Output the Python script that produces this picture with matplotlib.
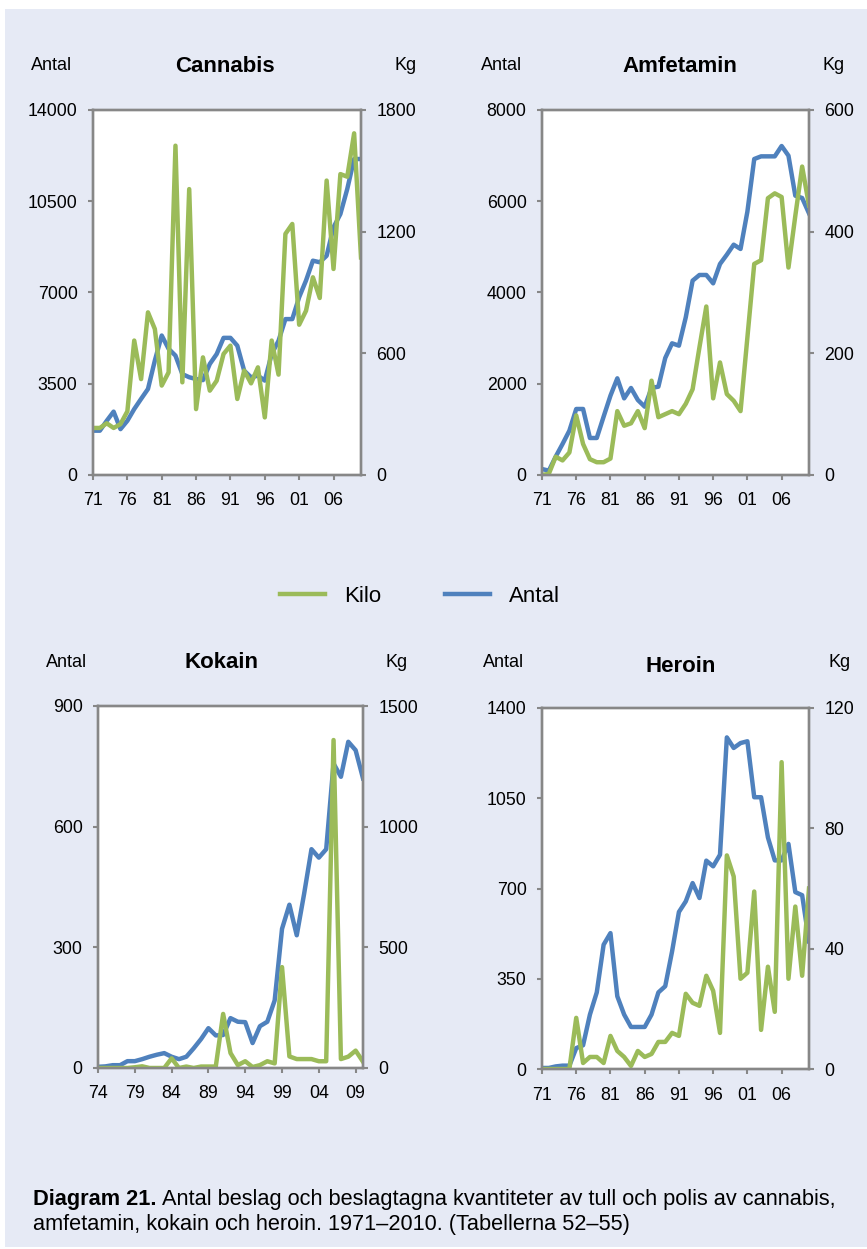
import matplotlib
matplotlib.use("Agg")
import matplotlib.pyplot as plt
from matplotlib.patches import Rectangle

plt.rcParams['font.family'] = ['Liberation Sans', 'DejaVu Sans']

# Data (Antal = number of seizures, Kilo = kg seized)
years_71 = list(range(1971, 2011))
years_74 = list(range(1974, 2011))

cannabis_antal = [1700, 1700, 2080, 2430, 1760, 2080, 2530, 2920, 3300, 4390,
                  5350, 4840, 4580, 3870, 3750, 3680, 3640, 4260, 4640, 5260,
                  5260, 4960, 4000, 3750, 3810, 3620, 4640, 5150, 5980, 5980,
                  6820, 7460, 8220, 8160, 8410, 9500, 10010, 10970, 12120, 12120]
cannabis_kilo = [232, 232, 255, 232, 251, 314, 663, 473, 802, 720,
                 441, 506, 1624, 457, 1410, 325, 580, 416, 465, 597,
                 638, 375, 515, 452, 531, 284, 663, 495, 1189, 1238,
                 741, 810, 975, 873, 1452, 1016, 1484, 1471, 1685, 1073]

amfetamin_antal = [131, 95, 402, 680, 972, 1447, 1447, 811, 811, 1279,
                   1739, 2119, 1680, 1907, 1644, 1498, 1907, 1936, 2564, 2886,
                   2835, 3456, 4260, 4384, 4384, 4201, 4625, 4829, 5048, 4954,
                   5772, 6926, 6984, 6984, 6984, 7211, 6999, 6122, 6071, 5735]
amfetamin_kilo = [0, 2, 30, 24, 37, 98, 51, 26, 21, 21,
                  27, 105, 81, 85, 105, 77, 155, 95, 100, 105,
                  100, 117, 141, 210, 277, 126, 185, 133, 122, 105,
                  226, 347, 353, 455, 463, 457, 341, 426, 507, 443]

kokain_antal = [3, 4, 7, 7, 17, 17, 22, 28, 33, 37,
                28, 22, 28, 49, 72, 99, 81, 82, 124, 115,
                114, 62, 104, 115, 168, 346, 406, 330, 433, 544,
                523, 544, 757, 724, 811, 790, 720]
kokain_kilo = [0, 0, 0, 0, 0, 3, 7, 0, 0, 0,
               40, 0, 6, 0, 6, 6, 6, 224, 62, 12,
               28, 4, 12, 28, 19, 418, 48, 37, 37, 37,
               28, 28, 1359, 37, 47, 72, 26]

heroin_antal = [4, 4, 10, 13, 13, 81, 92, 211, 297, 482,
                527, 282, 211, 163, 163, 163, 211, 297, 321, 456,
                609, 650, 721, 663, 808, 786, 831, 1286, 1245, 1264,
                1271, 1054, 1054, 898, 809, 809, 873, 686, 674, 495]
heroin_kilo = [0, 0, 0, 0, 0, 17, 2, 4, 4, 2,
               11, 6, 4, 1, 6, 4, 5, 9, 9, 12,
               11, 25, 22, 21, 31, 26, 12, 71, 64, 30,
               32, 59, 13, 34, 19, 102, 30, 54, 31, 60]

BLUE = '#4f81bd'
GREEN = '#9bbb59'
GREY = '#878787'
BG = '#e6eaf5'
LW = 3.2

W, H = 867, 1249
fig = plt.figure(figsize=(W / 100, H / 100), dpi=100, facecolor='white')
fig.patches.append(Rectangle((5 / W, 2 / H), 1, 1 - 11 / H, transform=fig.transFigure,
                             facecolor=BG, edgecolor='none', zorder=-10))


def box(l, t, r, b):
    return [l / W, 1 - b / H, (r - l) / W, (b - t) / H]


def panel(rect, years, antal, kilo, lmax, lstep, rmax, rstep, title, title_xy, antal_x, kg_x, lab_y):
    ax = fig.add_axes(rect)
    ax.set_facecolor('white')
    x = list(range(len(years)))
    ax.plot(x, antal, color=BLUE, lw=LW, solid_joinstyle='round')
    ax.set_xlim(0, len(years) - 1)
    ax.set_ylim(0, lmax)
    ax.set_yticks(range(0, lmax + 1, lstep))
    ticks = x[::5]
    ax.set_xticks(ticks)
    ax.set_xticklabels(['%02d' % (years[i] % 100) for i in ticks])
    ax2 = ax.twinx()
    ax2.plot(x, kilo, color=GREEN, lw=LW, solid_joinstyle='round')
    ax2.set_ylim(0, rmax)
    ax2.set_yticks(range(0, rmax + 1, rstep))
    for a in (ax, ax2):
        for s in a.spines.values():
            s.set_color(GREY)
            s.set_linewidth(1.7)
        a.tick_params(direction='out', length=3.6, width=1.5, color=GREY,
                      labelsize=12.8, pad=7.5, labelcolor='black')
    ax.tick_params(axis='x', pad=9)
    fig.text(title_xy[0] / W, 1 - title_xy[1] / H, title, ha='center', va='center',
             fontsize=16, fontweight='bold')
    fig.text(antal_x / W, 1 - lab_y / H, 'Antal', ha='left', va='center', fontsize=13)
    fig.text(kg_x / W, 1 - lab_y / H, 'Kg', ha='center', va='center', fontsize=13)
    return ax


panel(box(93, 110, 361, 475), years_71, cannabis_antal, cannabis_kilo,
      14000, 3500, 1800, 600, 'Cannabis', (225, 66), 31, 406, 66)
panel(box(542, 110, 809, 475), years_71, amfetamin_antal, amfetamin_kilo,
      8000, 2000, 600, 200, 'Amfetamin', (680, 67), 481, 834, 65)
panel(box(98, 706, 363, 1068), years_74, kokain_antal, kokain_kilo,
      900, 300, 1500, 500, 'Kokain', (222, 662), 46, 397, 662)
panel(box(542, 708, 809, 1069), years_71, heroin_antal, heroin_kilo,
      1400, 350, 120, 40, 'Heroin', (681, 666), 483, 840, 662)

# legend
h_kilo, = plt.plot([], [], color=GREEN, lw=LW)
h_antal, = plt.plot([], [], color=BLUE, lw=LW)
fig.legend([h_kilo, h_antal], ['Kilo', 'Antal'], loc='center', ncol=2,
           bbox_to_anchor=(420 / W, 1 - 596 / H), frameon=False, fontsize=16,
           handlelength=2.0, handletextpad=0.85, columnspacing=2.9)

# caption
t1 = fig.text(33 / W, 1 - 1205 / H, 'Diagram 21.', ha='left', va='baseline',
              fontsize=15.7, fontweight='bold')
fig.canvas.draw()
bb = t1.get_window_extent()
fig.text((bb.x1 + 5) / W, 1 - 1205 / H,
         'Antal beslag och beslagtagna kvantiteter av tull och polis av cannabis,',
         ha='left', va='baseline', fontsize=15.7)
fig.text(33 / W, 1 - 1230 / H, 'amfetamin, kokain och heroin. 1971\u20132010. (Tabellerna 52\u201355)',
         ha='left', va='baseline', fontsize=15.7)

fig.savefig('out.png', dpi=100, facecolor='white')
